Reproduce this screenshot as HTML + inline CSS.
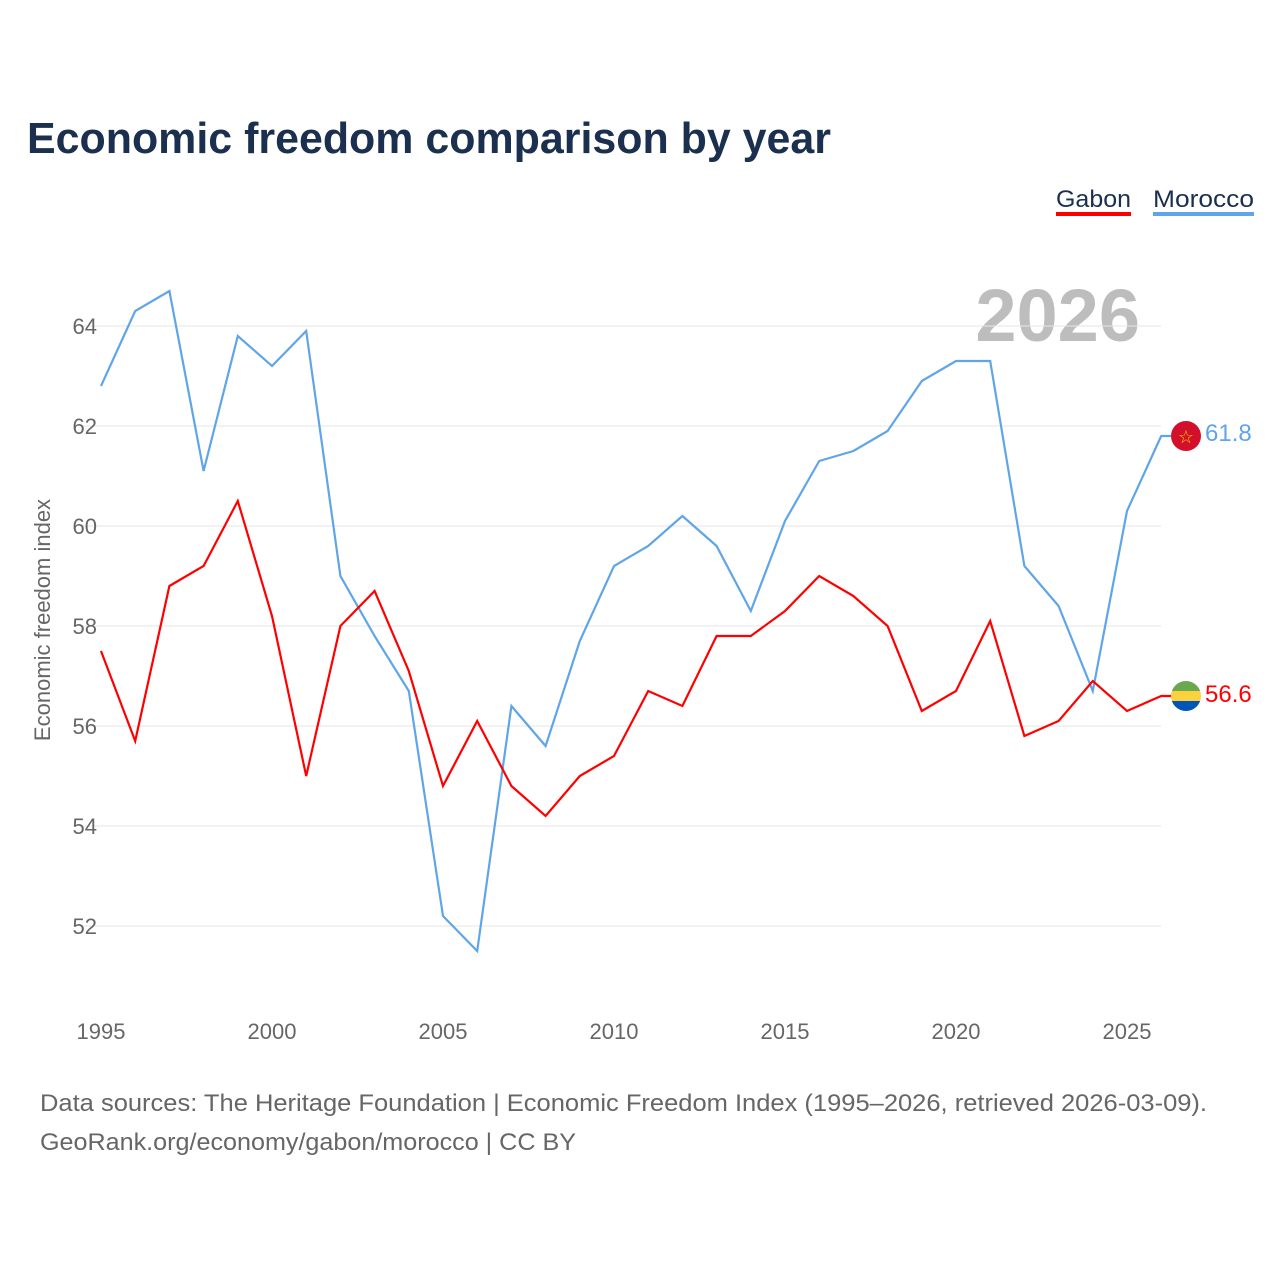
<!DOCTYPE html>
<html><head><meta charset="utf-8">
<style>
html,body{margin:0;padding:0;background:#fff;}
body{width:1280px;height:1280px;position:relative;font-family:"Liberation Sans",sans-serif;overflow:hidden;}
</style></head>
<body>
<svg width="1280" height="1280" viewBox="0 0 1280 1280" xmlns="http://www.w3.org/2000/svg">
<text x="27" y="153" font-size="44" font-weight="bold" fill="#1b2f4f" textLength="804" lengthAdjust="spacingAndGlyphs">Economic freedom comparison by year</text>
<g>
 <g>
  <text x="1056" y="207" font-size="24" fill="#1b2f4f" textLength="75" lengthAdjust="spacingAndGlyphs">Gabon</text>
  <rect x="1056" y="212" width="75" height="4" fill="#ff0000"/>
 </g>
 <g>
  <text x="1153" y="207" font-size="24" fill="#1b2f4f" textLength="101" lengthAdjust="spacingAndGlyphs">Morocco</text>
  <rect x="1153" y="212" width="101" height="4" fill="#5fa5e8"/>
 </g>
</g>
<text x="1140" y="341" font-size="74" font-weight="bold" fill="#bdbdbd" text-anchor="end">2026</text>
<g id="grid"></g>
<g id="yticks"></g>
<g id="xticks"></g>
<text transform="translate(50,620) rotate(-90)" font-size="22" fill="#666" text-anchor="middle">Economic freedom index</text>
<g id="series"></g>
<g>
 <circle cx="1186" cy="436" r="15" fill="#d2102c"/>
 <text x="1186" y="443" font-size="18" fill="#f5d000" text-anchor="middle">☆</text>
</g>
<g>
 <clipPath id="gc"><circle cx="1186" cy="696" r="15"/></clipPath>
 <g clip-path="url(#gc)">
  <rect x="1171" y="681" width="30" height="10" fill="#6aa84f"/>
  <rect x="1171" y="691" width="30" height="10" fill="#fcd13e"/>
  <rect x="1171" y="701" width="30" height="10" fill="#0055b8"/>
 </g>
</g>
<text x="1205" y="441" font-size="24" fill="#5fa5e8">61.8</text>
<text x="1205" y="702" font-size="24" fill="#ff0000">56.6</text>
<text x="40" y="1111" font-size="24" fill="#666" textLength="1167" lengthAdjust="spacingAndGlyphs">Data sources: The Heritage Foundation | Economic Freedom Index (1995–2026, retrieved 2026-03-09).</text>
<text x="40" y="1150" font-size="24" fill="#666" textLength="536" lengthAdjust="spacingAndGlyphs">GeoRank.org/economy/gabon/morocco | CC BY</text>
</svg>
<script>
const years=[1995,1996,1997,1998,1999,2000,2001,2002,2003,2004,2005,2006,2007,2008,2009,2010,2011,2012,2013,2014,2015,2016,2017,2018,2019,2020,2021,2022,2023,2024,2025,2026];
const morocco=[62.8,64.3,64.7,61.1,63.8,63.2,63.9,59.0,57.8,56.7,52.2,51.5,56.4,55.6,57.7,59.2,59.6,60.2,59.6,58.3,60.1,61.3,61.5,61.9,62.9,63.3,63.3,59.2,58.4,56.7,60.3,61.8];
const gabon=[57.5,55.7,58.8,59.2,60.5,58.2,55.0,58.0,58.7,57.1,54.8,56.1,54.8,54.2,55.0,55.4,56.7,56.4,57.8,57.8,58.3,59.0,58.6,58.0,56.3,56.7,58.1,55.8,56.1,56.9,56.3,56.6];
const yTicks=[52,54,56,58,60,62,64];
const xTicks=[1995,2000,2005,2010,2015,2020,2025];
const NS="http://www.w3.org/2000/svg";
function xs(y){return 101+(y-1995)*34.2;}
function ys(v){return 326+(64-v)*50;}
const grid=document.getElementById('grid'),yt=document.getElementById('yticks'),xt=document.getElementById('xticks'),ser=document.getElementById('series');
yTicks.forEach(t=>{
 const l=document.createElementNS(NS,'line');
 l.setAttribute('x1',80);l.setAttribute('x2',1161);l.setAttribute('y1',ys(t));l.setAttribute('y2',ys(t));
 l.setAttribute('stroke','#e6e6e6');l.setAttribute('stroke-width','1');
 
 
 grid.appendChild(l);
 const tx=document.createElementNS(NS,'text');
 tx.setAttribute('x',97);tx.setAttribute('y',ys(t)+8);tx.setAttribute('text-anchor','end');
 tx.setAttribute('font-size','22');tx.setAttribute('fill','#666');tx.textContent=t;
 
 
 yt.appendChild(tx);
});
xTicks.forEach(t=>{
 const tx=document.createElementNS(NS,'text');
 tx.setAttribute('x',xs(t));tx.setAttribute('y',1039);tx.setAttribute('text-anchor','middle');
 tx.setAttribute('font-size','22');tx.setAttribute('fill','#666');tx.textContent=t;
 
 
 xt.appendChild(tx);
});
function line(vals,color,name){
 const p=document.createElementNS(NS,'polyline');
 let pts=vals.map((v,i)=>xs(years[i])+','+ys(v));
 pts.push((xs(years[years.length-1])+10)+','+ys(vals[vals.length-1]));
 p.setAttribute('points',pts.join(' '));
 p.setAttribute('fill','none');p.setAttribute('stroke',color);p.setAttribute('stroke-width','2.2');
 p.setAttribute('stroke-linejoin','miter');
 
 
 ser.appendChild(p);
}
line(morocco,'#5fa5e8','morocco-line');
line(gabon,'#ff0000','gabon-line');
</script>
</body></html>
